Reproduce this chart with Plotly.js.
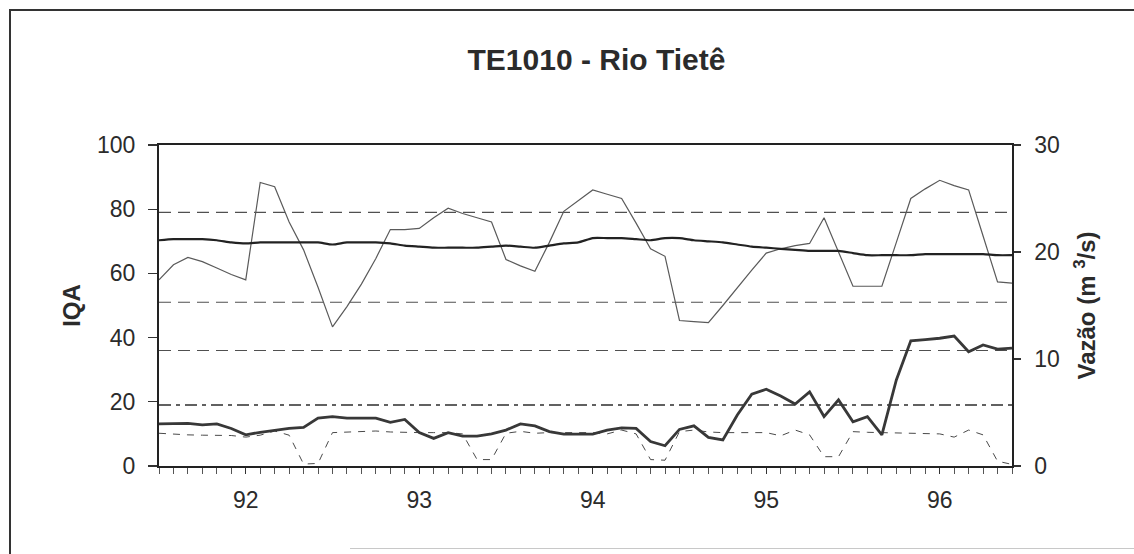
<!DOCTYPE html>
<html>
<head>
<meta charset="utf-8">
<script src="https://cdn.plot.ly/plotly-3.0.1.min.js"></script>
<style>
  html, body { margin: 0; padding: 0; background: #fff; }
  #wrap { position: relative; width: 1134px; height: 554px; overflow: hidden; }
  #chart { position: absolute; left: 0; top: 0; width: 1134px; height: 554px; }
  #frame { position: absolute; left: 9px; top: 9px; right: -4px; bottom: -4px;
           border-left: 2px solid #333; border-top: 2px solid #333; pointer-events: none; }
  #rule { position: absolute; left: 350px; top: 548px; width: 784px; height: 1px;
          background: #c8c8c8; pointer-events: none; }
</style>
</head>
<body>
<div id="wrap">
  <div id="chart"></div>
  <div id="frame"></div>
  <div id="rule"></div>
</div>
<script>
// Monthly series, Jan/1992 .. Dec/1996
const anos = ['92', '93', '94', '95', '96'];
const nomesMes = ['jan', 'fev', 'mar', 'abr', 'mai', 'jun', 'jul', 'ago', 'set', 'out', 'nov', 'dez'];
const meses = [];
anos.forEach(a => nomesMes.forEach(m => meses.push(m + '/' + a)));

// IQA (left axis)
const iqa = [
  13.1, 13.2, 13.3, 12.8, 13.1, 11.7, 9.7, 10.5, 11.2, 11.7, 12.0, 14.9,
  15.4, 14.9, 14.9, 14.9, 13.6, 14.5, 10.4, 8.6, 10.4, 9.3, 9.3, 10.0,
  11.2, 13.1, 12.5, 10.7, 9.9, 9.9, 9.9, 11.2, 11.9, 11.7, 7.6, 6.3,
  11.4, 12.5, 8.9, 8.1, 15.9, 22.4, 23.9, 21.8, 19.3, 23.1, 15.4, 20.6,
  13.8, 15.4, 9.7, 26.8, 39.0, 39.4, 39.8, 40.5, 35.6, 37.7, 36.4, 36.7
];

// secondary IQA series (dashed, left axis)
const iqaRef = [
  10.2, 9.9, 9.7, 9.6, 9.5, 9.5, 9.0, 9.6, 10.9, 9.6, 0.6, 0.8,
  10.4, 10.6, 10.8, 10.9, 10.6, 10.4, 10.4, 10.4, 10.4, 10.0, 2.0, 2.0,
  10.2, 10.8, 10.2, 10.4, 10.4, 10.4, 10.4, 10.0, 11.2, 10.0, 2.0, 1.8,
  10.7, 11.2, 10.6, 10.4, 10.4, 10.4, 10.4, 9.4, 11.2, 9.7, 2.9, 2.9,
  10.7, 10.5, 10.4, 10.4, 10.4, 10.2, 10.0, 9.0, 11.2, 9.7, 1.5, 0.5
];

// Vazão, m3/s (right axis)
const vazao = [
  17.4, 18.8, 19.5, 19.1, 18.5, 17.9, 17.4, 26.5, 26.1, 22.8, 20.2, 16.7,
  13.0, 14.9, 17.0, 19.4, 22.1, 22.1, 22.2, 23.2, 24.1, 23.6, 23.2, 22.8,
  19.3, 18.7, 18.2, 20.9, 23.8, 24.8, 25.8, 25.4, 25.0, 22.7, 20.3, 19.6,
  13.6, 13.5, 13.4, 15.0, 16.7, 18.3, 19.9, 20.3, 20.6, 20.8, 23.2, 20.0,
  16.8, 16.8, 16.8, 20.9, 25.0, 25.9, 26.7, 26.2, 25.8, 21.5, 17.2, 17.1
];

// Vazão média (right axis)
const vazaoMedia = [
  21.1, 21.2, 21.2, 21.2, 21.1, 20.9, 20.8, 20.9, 20.9, 20.9, 20.9, 20.9,
  20.7, 20.9, 20.9, 20.9, 20.8, 20.6, 20.5, 20.4, 20.4, 20.4, 20.4, 20.5,
  20.6, 20.5, 20.4, 20.6, 20.8, 20.9, 21.3, 21.3, 21.3, 21.2, 21.1, 21.3,
  21.3, 21.1, 21.0, 20.9, 20.7, 20.5, 20.4, 20.3, 20.2, 20.1, 20.1, 20.1,
  19.9, 19.7, 19.7, 19.7, 19.7, 19.8, 19.8, 19.8, 19.8, 19.8, 19.7, 19.7
];

// IQA class limits
const limitesIQA = [79, 51, 36, 19];

const x = meses.map((_, i) => i);
const rotulosAno = anos;
const posRotulos = anos.map(a => meses.indexOf('jul/' + a));

const FONT = 'Liberation Sans, Arial, sans-serif';
const INK = '#2b2b2b';

const traces = [
  { x, y: iqaRef, yaxis: 'y', mode: 'lines', name: 'IQA ref',
    line: { color: '#4a4a4a', width: 1, dash: '7px,7px' } },
  { x, y: vazao, yaxis: 'y2', mode: 'lines', name: 'Vazão',
    line: { color: '#5a5a5a', width: 1.2 } },
  { x, y: vazaoMedia, yaxis: 'y2', mode: 'lines', name: 'Vazão média',
    line: { color: '#222', width: 2.2, shape: 'spline', smoothing: 0.6 } },
  { x, y: iqa, yaxis: 'y', mode: 'lines', name: 'IQA',
    line: { color: '#383838', width: 2.8 } }
];

const shapes = limitesIQA.map((v, k) => ({
  type: 'line', xref: 'paper', yref: 'y', x0: 0, x1: 1, y0: v, y1: v,
  line: k === limitesIQA.length - 1
    ? { color: '#2e2e2e', width: 1.6, dash: '12px,5px,4px,5px' }
    : { color: '#505050', width: 1.1, dash: '12px,7px' },
  layer: 'below'
}));

const layout = {
  width: 1134, height: 554,
  margin: { l: 159, r: 122, t: 145, b: 88 },
  paper_bgcolor: '#fff', plot_bgcolor: '#fff',
  showlegend: false,
  font: { family: FONT, color: INK, size: 22 },
  title: { text: '<b>TE1010 - Rio Tietê</b>', font: { family: FONT, size: 30, color: INK },
           x: 0.526, xanchor: 'center', y: 0.893, yanchor: 'middle' },
  xaxis: {
    range: [0, 59], showgrid: false, zeroline: false,
    showline: true, linecolor: '#222', linewidth: 2, mirror: true,
    tickmode: 'array', tickvals: posRotulos, ticktext: rotulosAno,
    ticks: 'outside', ticklen: 6, tickcolor: '#333', tickwidth: 1,
    ticklabelstandoff: 6,
    tickfont: { family: FONT, size: 23, color: INK },
    minor: { dtick: 1, tick0: 0, ticks: 'outside', ticklen: 6, tickcolor: '#555', tickwidth: 1, showgrid: false }
  },
  yaxis: {
    range: [0, 100], dtick: 20, showgrid: false, zeroline: false,
    showline: true, linecolor: '#222', linewidth: 2,
    ticks: 'outside', ticklen: 9, tickcolor: '#333', tickwidth: 1.3,
    ticklabelstandoff: 8,
    tickfont: { family: FONT, size: 23, color: INK },
    title: { text: '<b>IQA</b>', font: { family: FONT, size: 24, color: INK }, standoff: 10 }
  },
  yaxis2: {
    range: [0, 30], dtick: 10, overlaying: 'y', side: 'right',
    showgrid: false, zeroline: false,
    showline: true, linecolor: '#222', linewidth: 1.6,
    ticks: 'outside', ticklen: 7, tickcolor: '#333', tickwidth: 1.3,
    ticklabelstandoff: 9,
    tickfont: { family: FONT, size: 23, color: INK },
    title: { text: '<b>Vazão (m <sup>3</sup>/s)</b>', font: { family: FONT, size: 24, color: INK }, standoff: 19 }
  },
  shapes
};

Plotly.newPlot('chart', traces, layout, { staticPlot: true, displayModeBar: false });
</script>
</body>
</html>
